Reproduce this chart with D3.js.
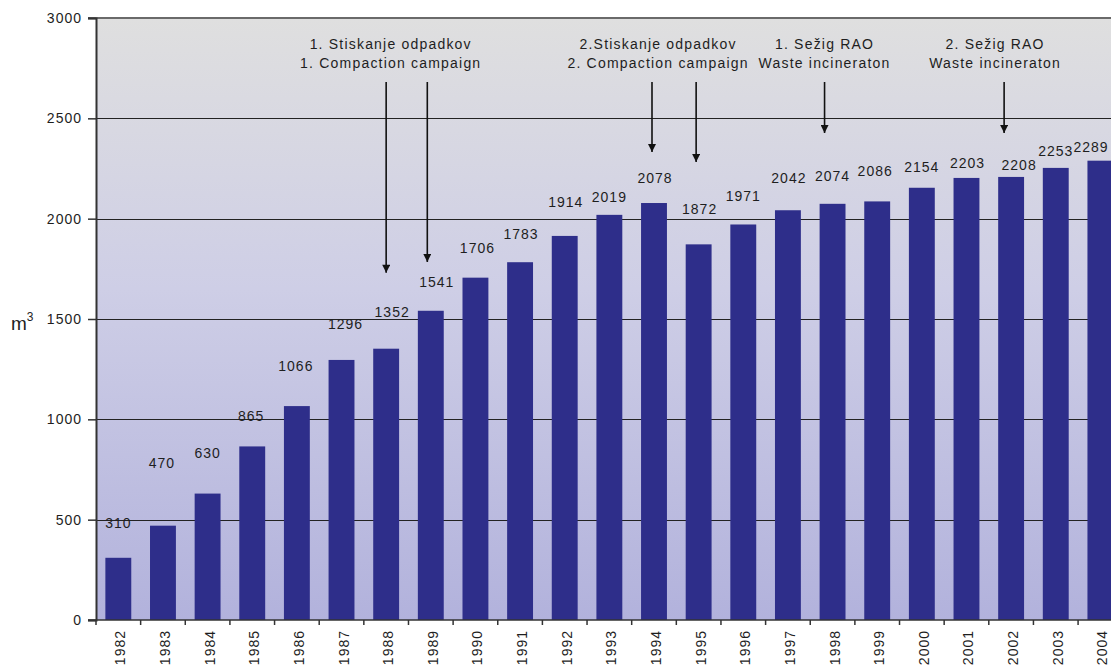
<!DOCTYPE html>
<html>
<head>
<meta charset="utf-8">
<script src="https://cdn.jsdelivr.net/npm/d3@7"></script>
<style>
  html, body { margin: 0; padding: 0; background: #fff; overflow: hidden; }
  svg { display: block; font-family: "Liberation Sans", Arial, sans-serif; }
</style>
</head>
<body>
<svg id="chart" width="1111" height="670"></svg>
<script>
// Yearly accumulated volume of stored waste (m³)
const years = ["1982","1983","1984","1985","1986","1987","1988","1989","1990","1991","1992",
               "1993","1994","1995","1996","1997","1998","1999","2000","2001","2002","2003","2004"];
const volumes = [310, 470, 630, 865, 1066, 1296, 1352, 1541, 1706, 1783, 1914,
                 2019, 2078, 1872, 1971, 2042, 2074, 2086, 2154, 2203, 2208, 2253, 2289];
const yTicks = [0, 500, 1000, 1500, 2000, 2500, 3000];

// Campaign notes shown above the bars
const noteLines = [
  ["1. Stiskanje odpadkov", "1. Compaction campaign"],
  ["2.Stiskanje odpadkov", "2. Compaction campaign"],
  ["1. Sežig RAO", "Waste incineraton"],
  ["2. Sežig RAO", "Waste incineraton"]
];
const noteYears = [["1988", "1989"], ["1994", "1995"], ["1998"], ["2002"]];
// level (m³) where each arrow tip stops
const noteTips = [[1730, 1784], [2332, 2282], [2427], [2427]];

// ---- layout ----
const svg = d3.select("#chart");
const W = 1111;
const plotLeft = 96, plotTop = 18, plotBottom = 620;
const step = 44.64;
const plotRight = plotLeft + step * years.length;

const x = d3.scaleBand().domain(years).range([plotLeft, plotRight])
  .paddingInner(0.42).paddingOuter(0.21);
const y = d3.scaleLinear().domain([0, 3000]).range([plotBottom, plotTop]);

// per-label nudges [dx, dy] for the value labels
const labelNudge = [
  [0,-16],[-1,-44],[0,-22],[-1,-11],[-1,-21],[4,-17],[6,-18],[6,-10],[2,-11],[1,-9],[1,-15],
  [0,1],[1,-6],[1,-16],[0,-9],[1,-13],[0,-9],[-2,-11],[0,-2],[1,4],[8,7],[0,2],[0,5]
];
const arrowNudge = [[0, -3.5], [-2, -2.5], [-8], [-7]];
const noteDx = [-16, -16, 0, -9];

const textColor = "#1e1e1e";
const fontSize = 14;
const spacing = 1;

const defs = svg.append("defs");
const grad = defs.append("linearGradient").attr("id", "bg")
  .attr("x1", 0).attr("y1", 0).attr("x2", 0).attr("y2", 1);
grad.append("stop").attr("offset", "0%").attr("stop-color", "#dfdfdf");
grad.append("stop").attr("offset", "45%").attr("stop-color", "#cecee6");
grad.append("stop").attr("offset", "100%").attr("stop-color", "#b2b2dc");

defs.append("marker").attr("id", "arrowhead")
  .attr("viewBox", "0 0 10 10").attr("refX", 10).attr("refY", 5)
  .attr("markerWidth", 11).attr("markerHeight", 8).attr("orient", "auto")
  .attr("markerUnits", "userSpaceOnUse")
  .append("path").attr("d", "M0,0 L10,5 L0,10 Z").attr("fill", "#111");

// plot background
svg.append("rect").attr("x", plotLeft).attr("y", plotTop)
  .attr("width", plotRight - plotLeft).attr("height", plotBottom - plotTop)
  .attr("fill", "url(#bg)");

// horizontal grid lines
svg.append("g").selectAll("line")
  .data(yTicks.filter(t => t > 0 && t < 3000)).join("line")
  .attr("x1", plotLeft).attr("x2", plotRight)
  .attr("y1", d => Math.round(y(d)) + 0.5).attr("y2", d => Math.round(y(d)) + 0.5)
  .attr("stroke", "#222").attr("stroke-width", 1.2);

// top border
svg.append("line").attr("x1", plotLeft - 8).attr("x2", plotRight)
  .attr("y1", y(3000)).attr("y2", y(3000))
  .attr("stroke", "#6a6a6a").attr("stroke-width", 2);

// bars
svg.append("g").selectAll("rect").data(volumes).join("rect")
  .attr("x", (d, i) => x(years[i]))
  .attr("width", x.bandwidth())
  .attr("y", d => y(d))
  .attr("height", d => y(0) - y(d))
  .attr("fill", "#2e2e8a");

// value labels (the last one is kept inside the page edge)
svg.append("g").selectAll("text").data(volumes).join("text")
  .attr("x", (d, i) => Math.min(x(years[i]) + x.bandwidth() / 2 + labelNudge[i][0], W - 20))
  .attr("y", (d, i) => y(d) - 14 + labelNudge[i][1])
  .attr("text-anchor", "middle")
  .attr("font-size", fontSize).attr("letter-spacing", spacing).attr("fill", textColor)
  .text(d => d);

// y axis
const yAxis = svg.append("g").attr("transform", `translate(${plotLeft},0)`)
  .call(d3.axisLeft(y).tickValues(yTicks).tickSize(8).tickPadding(6).tickFormat(d3.format("d")));
yAxis.select(".domain").attr("stroke", "#333").attr("stroke-width", 2);
yAxis.selectAll(".tick line").attr("stroke", "#333").attr("stroke-width", 1.5);
yAxis.selectAll(".tick text").attr("font-size", fontSize).attr("letter-spacing", spacing)
  .attr("fill", textColor).attr("font-family", "Liberation Sans, Arial, sans-serif");

// y axis title
const yTitle = svg.append("text").attr("x", 11).attr("y", 330)
  .attr("font-size", 19).attr("fill", textColor);
yTitle.append("tspan").text("m");
yTitle.append("tspan").attr("dy", -9).attr("font-size", 12).text("3");

// x axis
const xAxis = svg.append("g").attr("transform", `translate(0,${plotBottom})`);
xAxis.append("line").attr("x1", plotLeft - 8).attr("x2", plotRight)
  .attr("y1", 0).attr("y2", 0).attr("stroke", "#333").attr("stroke-width", 1.5);
xAxis.selectAll("line.tk").data(d3.range(years.length + 1)).join("line")
  .attr("class", "tk")
  .attr("x1", i => plotLeft + i * step).attr("x2", i => plotLeft + i * step)
  .attr("y1", 0).attr("y2", 5).attr("stroke", "#333").attr("stroke-width", 1.5);
xAxis.selectAll("text").data(years).join("text")
  .attr("transform", d => `translate(${x(d) + x.bandwidth() / 2 + 7},10) rotate(-90)`)
  .attr("text-anchor", "end")
  .attr("font-size", fontSize).attr("letter-spacing", spacing).attr("fill", textColor)
  .text(d => d);

// campaign notes with arrows
const notes = svg.append("g");
noteLines.forEach((lines, k) => {
  const ys = noteYears[k];
  const xs = ys.map((yr, j) => x(yr) + x.bandwidth() / 2 + arrowNudge[k][j]);
  const cx = d3.mean(xs) + noteDx[k];
  lines.forEach((t, j) => {
    notes.append("text").attr("x", cx).attr("y", 49 + j * 19)
      .attr("text-anchor", "middle").attr("font-size", fontSize)
      .attr("letter-spacing", 1.2).attr("fill", textColor)
      .text(t);
  });
  ys.forEach((yr, j) => {
    notes.append("line")
      .attr("x1", xs[j]).attr("x2", xs[j])
      .attr("y1", 82).attr("y2", y(noteTips[k][j]))
      .attr("stroke", "#111").attr("stroke-width", 1.6)
      .attr("marker-end", "url(#arrowhead)");
  });
});
</script>
</body>
</html>
